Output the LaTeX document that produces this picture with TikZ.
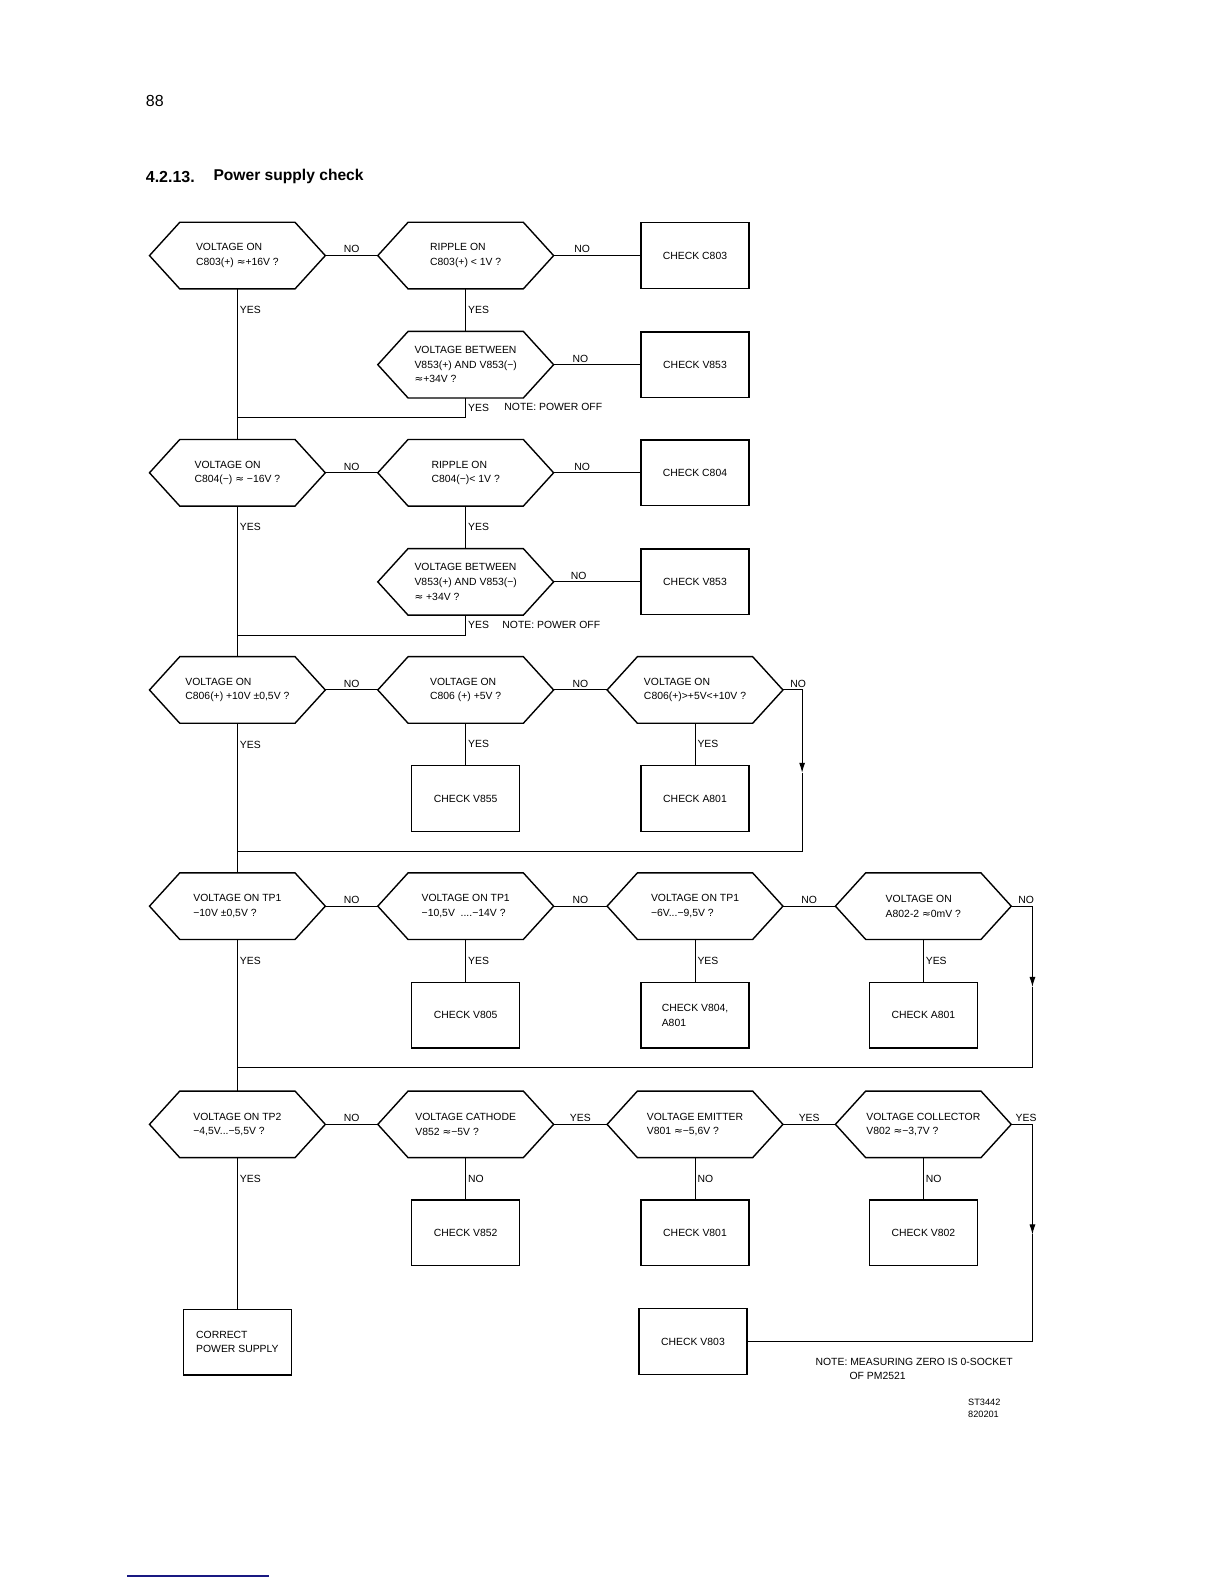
\documentclass[tikz,border=0pt]{standalone}
\usepackage{fontspec}
\setmainfont{Liberation Sans}
\newfontfamily\symfont{DejaVu Sans}
\newcommand{\apx}{{\symfont ≈}}
\usepackage{xcolor}
\usetikzlibrary{arrows.meta,calc}
\definecolor{linkrule}{RGB}{25,25,130}

\begin{document}
\begin{tikzpicture}[
        x=0.505pt, y=-0.505pt,
        font=\fontsize{5.2}{7.3}\selectfont,
        hex/.style={minimum width=87.9pt, minimum height=33.3pt, inner sep=0pt, outer sep=0pt, align=left},
        hexline/.style={line width=0.7pt, line join=miter},
        chk/.style={draw, line width=0.7pt, minimum width=54pt, minimum height=32.8pt, align=left},
        lbl/.style={inner sep=1pt},
        conn/.style={line width=0.5pt},
        arr/.style={conn, -{Latex[length=5pt, width=3pt]}},
        head/.style={inner sep=0pt, anchor=west}
    ]
        \useasboundingbox[fill=white] (0,0) rectangle (1212,1568);

        \node[head, font=\fontsize{8}{10}\selectfont] (page) at (144,100) {88};
        \node[head, font=\fontsize{8}{10}\selectfont\bfseries] (sec) at (144,175) {4.2.13.};
        \node[head, font=\fontsize{7.8}{10}\selectfont\bfseries] (title) at (211,175) {Power supply check};

        % row 1
        \node[hex] (a1) at (235,253) {VOLTAGE ON\\C803(+) \apx+16V ?};
        \node[hex] (a2) at (461,253) {RIPPLE ON\\C803(+) < 1V ?};
        \node[chk] (k803) at (688,253) {CHECK C803};
        \node[hex] (b1) at (461,361) {VOLTAGE BETWEEN\\V853(+) AND V853(−)\\\apx+34V ?};
        \node[chk] (k853) at (688,361) {CHECK V853};
        \coordinate (j1) at (235,413);
        \node[lbl, anchor=west] (note1) at (497,403) {NOTE: POWER OFF};

        % row 2
        \node[hex] (a3) at (235,468) {VOLTAGE ON\\C804(−) \apx\ −16V ?};
        \node[hex] (a4) at (461,468) {RIPPLE ON\\C804(−)< 1V ?};
        \node[chk] (k804) at (688,468) {CHECK C804};
        \node[hex] (b2) at (461,576) {VOLTAGE BETWEEN\\V853(+) AND V853(−)\\\apx\ +34V ?};
        \node[chk] (k853b) at (688,576) {CHECK V853};
        \coordinate (j2) at (235,629);
        \node[lbl, anchor=west] (note2) at (495,619) {NOTE: POWER OFF};

        % row 3
        \node[hex] (c1) at (235,683) {VOLTAGE ON\\C806(+) +10V ±0,5V ?};
        \node[hex] (c2) at (461,683) {VOLTAGE ON\\C806 (+) +5V ?};
        \node[hex] (c3) at (688,683) {VOLTAGE ON\\C806(+)>+5V<+10V ?};
        \node[chk] (k855) at (461,790.5) {CHECK V855};
        \node[chk] (k801a) at (688,790.5) {CHECK A801};
        \coordinate (r3) at (794,765);
        \coordinate (j3) at (235,843);

        % row 4
        \node[hex] (d1) at (235,897) {VOLTAGE ON TP1\\−10V ±0,5V ?};
        \node[hex] (d2) at (461,897) {VOLTAGE ON TP1\\−10,5V \ ....−14V ?};
        \node[hex] (d3) at (688,897) {VOLTAGE ON TP1\\−6V...−9,5V ?};
        \node[hex] (d4) at (914,897) {VOLTAGE ON\\A802-2 \apx0mV ?};
        \node[chk] (k805) at (461,1005) {CHECK V805};
        \node[chk] (k804v) at (688,1005) {CHECK V804,\\A801};
        \node[chk] (k801b) at (914,1005) {CHECK A801};
        \coordinate (r4) at (1022,977);
        \coordinate (j4) at (235,1057);

        % row 5
        \node[hex] (e1) at (235,1113) {VOLTAGE ON TP2\\−4,5V...−5,5V ?};
        \node[hex] (e2) at (461,1113) {VOLTAGE CATHODE\\V852 \apx−5V ?};
        \node[hex] (e3) at (688,1113) {VOLTAGE EMITTER\\V801 \apx−5,6V ?};
        \node[hex] (e4) at (914,1113) {VOLTAGE COLLECTOR\\V802 \apx−3,7V ?};
        \node[chk] (k852) at (461,1220.5) {CHECK V852};
        \node[chk] (k801) at (688,1220.5) {CHECK V801};
        \node[chk] (k802) at (914,1220.5) {CHECK V802};
        \node[chk] (ok) at (235,1328.5) {CORRECT\\POWER SUPPLY};
        \node[chk] (k803b) at (686,1328) {CHECK V803};
        \coordinate (r5) at (1022,1222);

        \node[lbl, anchor=west, align=left] (note3) at (805,1355) {NOTE: MEASURING ZERO IS 0-SOCKET\\\hspace*{17pt}OF PM2521};
        \node[lbl, anchor=west, align=left, font=\fontsize{4.6}{5.6}\selectfont] (stamp) at (956,1394) {ST3442\\820201};

        \foreach \h in {a1,a2,b1,a3,a4,b2,c1,c2,c3,d1,d2,d3,d4,e1,e2,e3,e4}
            \draw[hexline] (\h.west) -- ($(\h.north west)+(30,0)$) -- ($(\h.north east)+(-30,0)$) -- (\h.east)
                -- ($(\h.south east)+(-30,0)$) -- ($(\h.south west)+(30,0)$) -- cycle;

        % row 1 links
        \draw[conn] (a1) -- node[lbl, above]{NO} (a2);
        \draw[conn] (a2) -- node[lbl, above, pos=0.33]{NO} (k803);
        \draw[conn] (a2) -- node[lbl, right]{YES} (b1);
        \draw[conn] (b1) -- node[lbl, above, pos=0.31]{NO} (k853);
        \draw[conn] (b1.south) |- node[lbl, right, pos=0.25]{YES} (j1);
        \draw[conn] (a1.south) -- node[lbl, right]{YES} ++(0,42) -- (a3.north);

        % row 2 links
        \draw[conn] (a3) -- node[lbl, above]{NO} (a4);
        \draw[conn] (a4) -- node[lbl, above, pos=0.33]{NO} (k804);
        \draw[conn] (a4) -- node[lbl, right]{YES} (b2);
        \draw[conn] (b2) -- node[lbl, above, pos=0.29]{NO} (k853b);
        \draw[conn] (b2.south) |- node[lbl, right, pos=0.25]{YES} (j2);
        \draw[conn] (a3.south) -- node[lbl, right]{YES} ++(0,42) -- (c1.north);

        % row 3 links
        \draw[conn] (c1) -- node[lbl, above]{NO} (c2);
        \draw[conn] (c2) -- node[lbl, above]{NO} (c3);
        \draw[arr] (c3.east) -| node[lbl, above, pos=0.4]{NO} (r3);
        \draw[conn] (r3) |- (j3);
        \draw[conn] (c2) -- node[lbl, right]{YES} (k855);
        \draw[conn] (c3) -- node[lbl, right]{YES} (k801a);
        \draw[conn] (c1.south) -- node[lbl, right]{YES} ++(0,42) -- (d1.north);

        % row 4 links
        \draw[conn] (d1) -- node[lbl, above]{NO} (d2);
        \draw[conn] (d2) -- node[lbl, above]{NO} (d3);
        \draw[conn] (d3) -- node[lbl, above]{NO} (d4);
        \draw[arr] (d4.east) -| node[lbl, above, pos=0.35]{NO} (r4);
        \draw[conn] (r4) |- (j4);
        \draw[conn] (d2) -- node[lbl, right]{YES} (k805);
        \draw[conn] (d3) -- node[lbl, right]{YES} (k804v);
        \draw[conn] (d4) -- node[lbl, right]{YES} (k801b);
        \draw[conn] (d1.south) -- node[lbl, right]{YES} ++(0,42) -- (e1.north);

        % row 5 links
        \draw[conn] (e1) -- node[lbl, above]{NO} (e2);
        \draw[conn] (e2) -- node[lbl, above]{YES} (e3);
        \draw[conn] (e3) -- node[lbl, above]{YES} (e4);
        \draw[arr] (e4.east) -| node[lbl, above, pos=0.35]{YES} (r5);
        \draw[conn] (r5) |- (k803b);
        \draw[conn] (e2) -- node[lbl, right]{NO} (k852);
        \draw[conn] (e3) -- node[lbl, right]{NO} (k801);
        \draw[conn] (e4) -- node[lbl, right]{NO} (k802);
        \draw[conn] (e1.south) -- node[lbl, right]{YES} ++(0,42) -- (ok.north);

        \draw[linkrule, line width=0.9pt] (126,1560) -- (266,1560);
    \end{tikzpicture}
\end{document}
